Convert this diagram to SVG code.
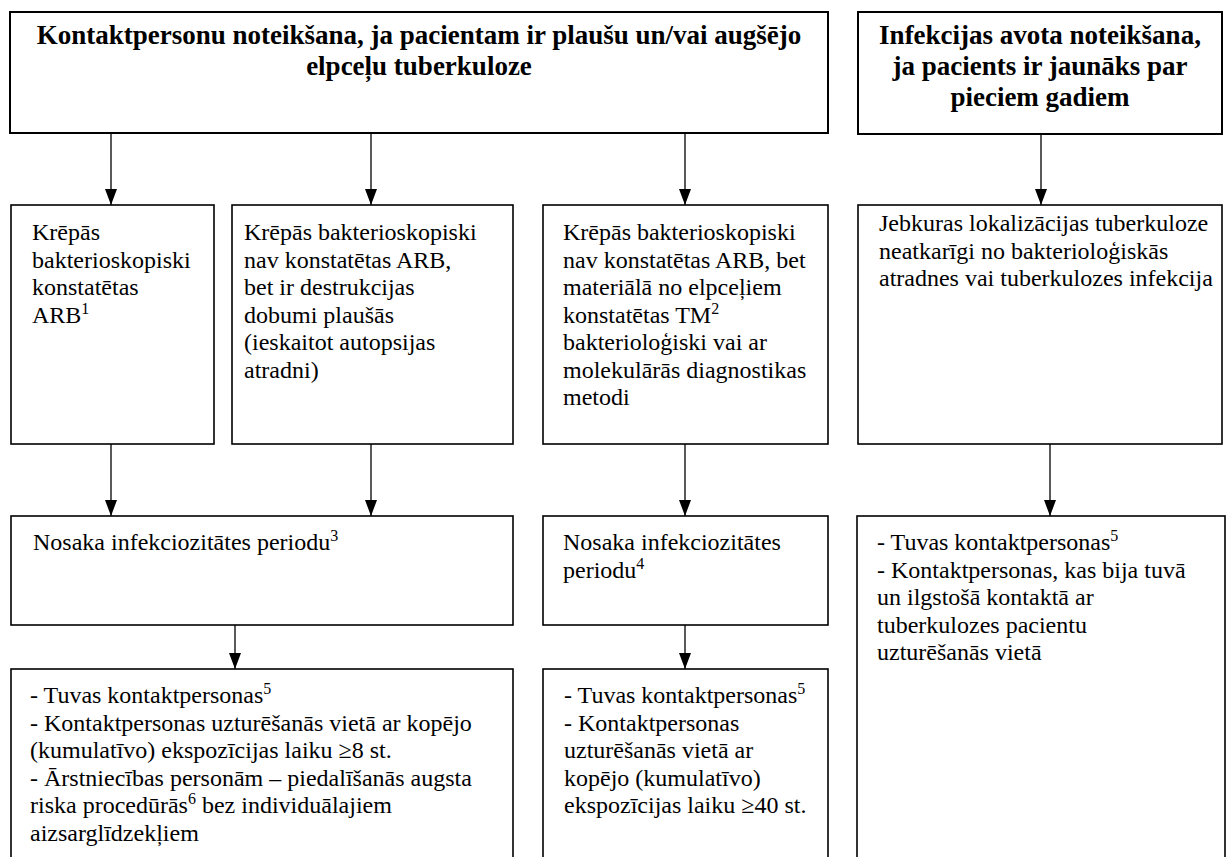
<svg xmlns="http://www.w3.org/2000/svg" width="1227" height="857" viewBox="0 0 1227 857">
<defs>
<marker id="ah" markerUnits="userSpaceOnUse" markerWidth="16" markerHeight="12" refX="16" refY="6" orient="auto">
<path d="M0,0 L16,6 L0,12 Z" fill="#000"/>
</marker>
</defs>
<rect width="1227" height="857" fill="#fff"/>

<g id="connectors" stroke="#000" stroke-width="1.3" fill="none" marker-end="url(#ah)">
<line x1="111" y1="133" x2="111" y2="205"/>
<line x1="371" y1="133" x2="371" y2="205"/>
<line x1="685" y1="133" x2="685" y2="205"/>
<line x1="1041" y1="134" x2="1041" y2="205"/>
<line x1="111" y1="444" x2="111" y2="516"/>
<line x1="371" y1="444" x2="371" y2="516"/>
<line x1="685" y1="444" x2="685" y2="516"/>
<line x1="1050" y1="444" x2="1050" y2="516"/>
<line x1="235" y1="625" x2="235" y2="669"/>
<line x1="685" y1="625" x2="685" y2="669"/>
</g>

<g id="title-contacts">
<rect x="10" y="12" width="818" height="121" fill="#fff" stroke="#000" stroke-width="2"/>
<text style="font-family:'Liberation Serif',serif;font-weight:bold;font-size:27px" text-anchor="middle" x="419" y="44">Kontaktpersonu noteikšana, ja pacientam ir plaušu un/vai augšējo</text>
<text style="font-family:'Liberation Serif',serif;font-weight:bold;font-size:27px" text-anchor="middle" x="419" y="75">elpceļu tuberkuloze</text>
</g>
<g id="title-source">
<rect x="858" y="12" width="364" height="122" fill="#fff" stroke="#000" stroke-width="2"/>
<text style="font-family:'Liberation Serif',serif;font-weight:bold;font-size:27px" text-anchor="middle" x="1040" y="44">Infekcijas avota noteikšana,</text>
<text style="font-family:'Liberation Serif',serif;font-weight:bold;font-size:27px" text-anchor="middle" x="1040" y="75">ja pacients ir jaunāks par</text>
<text style="font-family:'Liberation Serif',serif;font-weight:bold;font-size:27px" text-anchor="middle" x="1040" y="106">pieciem gadiem</text>
</g>

<g id="node-arb">
<rect x="11" y="205" width="203" height="239" fill="#fff" stroke="#000" stroke-width="1.6"/>
<text style="font-family:'Liberation Serif',serif;font-size:24px" x="32" y="240">Krēpās</text>
<text style="font-family:'Liberation Serif',serif;font-size:24px" x="32" y="267.5">bakterioskopiski</text>
<text style="font-family:'Liberation Serif',serif;font-size:24px" x="32" y="295">konstatētas</text>
<text style="font-family:'Liberation Serif',serif;font-size:24px" x="32" y="322.5">ARB<tspan style="font-size:16px" dy="-9">1</tspan></text>
</g>

<g id="node-destruction">
<rect x="232" y="205" width="281" height="239" fill="#fff" stroke="#000" stroke-width="1.6"/>
<text style="font-family:'Liberation Serif',serif;font-size:24px" x="244" y="240">Krēpās bakterioskopiski</text>
<text style="font-family:'Liberation Serif',serif;font-size:24px" x="244" y="267.5">nav konstatētas ARB,</text>
<text style="font-family:'Liberation Serif',serif;font-size:24px" x="244" y="295">bet ir destrukcijas</text>
<text style="font-family:'Liberation Serif',serif;font-size:24px" x="244" y="322.5">dobumi plaušās</text>
<text style="font-family:'Liberation Serif',serif;font-size:24px" x="244" y="350">(ieskaitot autopsijas</text>
<text style="font-family:'Liberation Serif',serif;font-size:24px" x="244" y="377.5">atradni)</text>
</g>

<g id="node-tm">
<rect x="543" y="205" width="285" height="239" fill="#fff" stroke="#000" stroke-width="1.6"/>
<text style="font-family:'Liberation Serif',serif;font-size:24px" x="563" y="240">Krēpās bakterioskopiski</text>
<text style="font-family:'Liberation Serif',serif;font-size:24px" x="563" y="267.5">nav konstatētas ARB, bet</text>
<text style="font-family:'Liberation Serif',serif;font-size:24px" x="563" y="295">materiālā no elpceļiem</text>
<text style="font-family:'Liberation Serif',serif;font-size:24px" x="563" y="322.5">konstatētas TM<tspan style="font-size:16px" dy="-9">2</tspan></text>
<text style="font-family:'Liberation Serif',serif;font-size:24px" x="563" y="350">bakterioloģiski vai ar</text>
<text style="font-family:'Liberation Serif',serif;font-size:24px" x="563" y="377.5">molekulārās diagnostikas</text>
<text style="font-family:'Liberation Serif',serif;font-size:24px" x="563" y="405">metodi</text>
</g>

<g id="node-any">
<rect x="858" y="205" width="364" height="239" fill="#fff" stroke="#000" stroke-width="1.6"/>
<text style="font-family:'Liberation Serif',serif;font-size:24px" x="879" y="231">Jebkuras lokalizācijas tuberkuloze</text>
<text style="font-family:'Liberation Serif',serif;font-size:24px" x="879" y="258.5">neatkarīgi no bakterioloģiskās</text>
<text style="font-family:'Liberation Serif',serif;font-size:24px" x="879" y="286">atradnes vai tuberkulozes infekcija</text>
</g>

<g id="node-period3">
<rect x="11" y="516" width="502" height="109" fill="#fff" stroke="#000" stroke-width="1.6"/>
<text style="font-family:'Liberation Serif',serif;font-size:24px" x="33" y="550">Nosaka infekciozitātes periodu<tspan style="font-size:16px" dy="-9">3</tspan></text>
</g>

<g id="node-period4">
<rect x="543" y="516" width="285" height="109" fill="#fff" stroke="#000" stroke-width="1.6"/>
<text style="font-family:'Liberation Serif',serif;font-size:24px" x="563" y="550">Nosaka infekciozitātes</text>
<text style="font-family:'Liberation Serif',serif;font-size:24px" x="563" y="577.5">periodu<tspan style="font-size:16px" dy="-9">4</tspan></text>
</g>

<g id="node-close-source">
<rect x="857" y="516" width="368" height="360" fill="#fff" stroke="#000" stroke-width="1.6"/>
<text style="font-family:'Liberation Serif',serif;font-size:24px" x="877" y="550">- Tuvas kontaktpersonas<tspan style="font-size:16px" dy="-9">5</tspan></text>
<text style="font-family:'Liberation Serif',serif;font-size:24px" x="877" y="577.5">- Kontaktpersonas, kas bija tuvā</text>
<text style="font-family:'Liberation Serif',serif;font-size:24px" x="877" y="605">un ilgstošā kontaktā ar</text>
<text style="font-family:'Liberation Serif',serif;font-size:24px" x="877" y="632.5">tuberkulozes pacientu</text>
<text style="font-family:'Liberation Serif',serif;font-size:24px" x="877" y="660">uzturēšanās vietā</text>
</g>

<g id="node-contacts-8h">
<rect x="11" y="669" width="502" height="210" fill="#fff" stroke="#000" stroke-width="1.6"/>
<text style="font-family:'Liberation Serif',serif;font-size:24px" x="30" y="703">- Tuvas kontaktpersonas<tspan style="font-size:16px" dy="-9">5</tspan></text>
<text style="font-family:'Liberation Serif',serif;font-size:24px" x="30" y="730.5">- Kontaktpersonas uzturēšanās vietā ar kopējo</text>
<text style="font-family:'Liberation Serif',serif;font-size:24px" x="30" y="758">(kumulatīvo) ekspozīcijas laiku ≥8 st.</text>
<text style="font-family:'Liberation Serif',serif;font-size:24px" x="30" y="785.5">- Ārstniecības personām – piedalīšanās augsta</text>
<text style="font-family:'Liberation Serif',serif;font-size:24px" x="30" y="813">riska procedūrās<tspan style="font-size:16px" dy="-9">6</tspan><tspan dy="9"> bez individuālajiem</tspan></text>
<text style="font-family:'Liberation Serif',serif;font-size:24px" x="30" y="840.5">aizsarglīdzekļiem</text>
</g>

<g id="node-contacts-40h">
<rect x="543" y="669" width="285" height="210" fill="#fff" stroke="#000" stroke-width="1.6"/>
<text style="font-family:'Liberation Serif',serif;font-size:24px" x="564" y="703">- Tuvas kontaktpersonas<tspan style="font-size:16px" dy="-9">5</tspan></text>
<text style="font-family:'Liberation Serif',serif;font-size:24px" x="564" y="730.5">- Kontaktpersonas</text>
<text style="font-family:'Liberation Serif',serif;font-size:24px" x="564" y="758">uzturēšanās vietā ar</text>
<text style="font-family:'Liberation Serif',serif;font-size:24px" x="564" y="785.5">kopējo (kumulatīvo)</text>
<text style="font-family:'Liberation Serif',serif;font-size:24px" x="564" y="813">ekspozīcijas laiku ≥40 st.</text>
</g>
</svg>
